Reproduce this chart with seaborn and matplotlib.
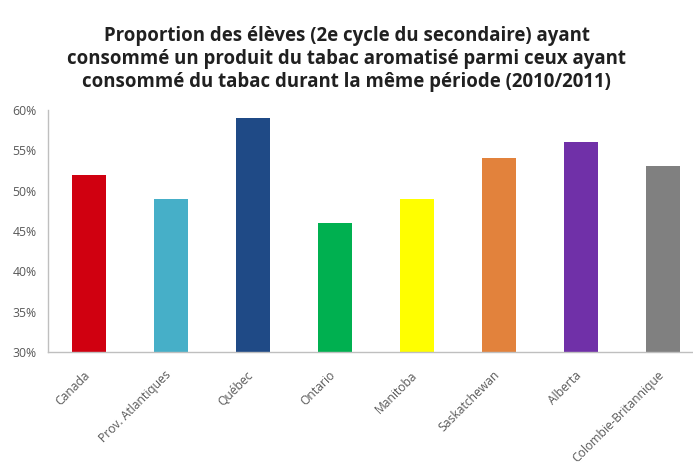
import matplotlib
matplotlib.use("Agg")
import matplotlib.pyplot as plt
import matplotlib.transforms as mtransforms
import seaborn as sns
import pandas as pd
from matplotlib.ticker import FuncFormatter, FixedLocator

categories = ["Canada", "Prov. Atlantiques", "Québec", "Ontario", "Manitoba",
              "Saskatchewan", "Alberta", "Colombie-Britannique"]
values = [52, 49, 59, 46, 49, 54, 56, 53]
colors = ["#D00010", "#46AFC8", "#1F4A86", "#00B050", "#FFFF00",
          "#E2823C", "#7030A8", "#808080"]
yticks = [30, 35, 40, 45, 50, 55, 60]
title = ("Proportion des élèves (2e cycle du secondaire) ayant\n"
         "consommé un produit du tabac aromatisé parmi ceux ayant\n"
         "consommé du tabac durant la même période (2010/2011)")

sns.set_style("white")
plt.rcParams['font.family'] = ['Open Sans', 'DejaVu Sans']

df = pd.DataFrame({"cat": categories, "val": values})
fig = plt.figure(figsize=(6.93, 4.68), dpi=100)
ax = fig.add_axes([0.069, 0.248, 0.947, 0.517])
sns.barplot(data=df, x="cat", y="val", hue="cat", palette=colors, legend=False,
            width=0.41, saturation=1, ax=ax, edgecolor="none")
ax.set_ylim(30, 60)
ax.set_xlim(-0.5, 7.5)
ax.set_yticks(yticks)
ax.yaxis.set_major_formatter(FuncFormatter(lambda v, p: f"{int(v)}%"))
ax.set_xlabel("")
ax.set_ylabel("")
ax.set_xticks(range(len(categories)))
ax.set_xticklabels(categories, rotation=45, ha="right", rotation_mode="anchor",
                   fontsize=8.7, color="#595959")
ax.tick_params(axis="x", length=0, pad=12)
ax.tick_params(axis="y", length=4, labelsize=8.8, colors="#595959", pad=4)
offset = mtransforms.ScaledTranslation(-6 / 100, 0, fig.dpi_scale_trans)
for lab in ax.get_xticklabels():
    lab.set_transform(lab.get_transform() + offset)
ax.xaxis.set_minor_locator(FixedLocator([i + 0.5 for i in range(-1, 8)]))
ax.tick_params(axis="x", which="minor", length=3, color="#BFBFBF", direction="in")
for s in ["top", "right"]:
    ax.spines[s].set_visible(False)
for s in ["left", "bottom"]:
    ax.spines[s].set_color("#BFBFBF")
    ax.spines[s].set_linewidth(1)
ax.tick_params(axis="y", color="#BFBFBF")
fig.text(0.5, 0.874, title, ha="center", va="center", fontsize=13.4,
         fontweight="bold", color="#202020", linespacing=1.18)
fig.savefig("out.png", dpi=100)
